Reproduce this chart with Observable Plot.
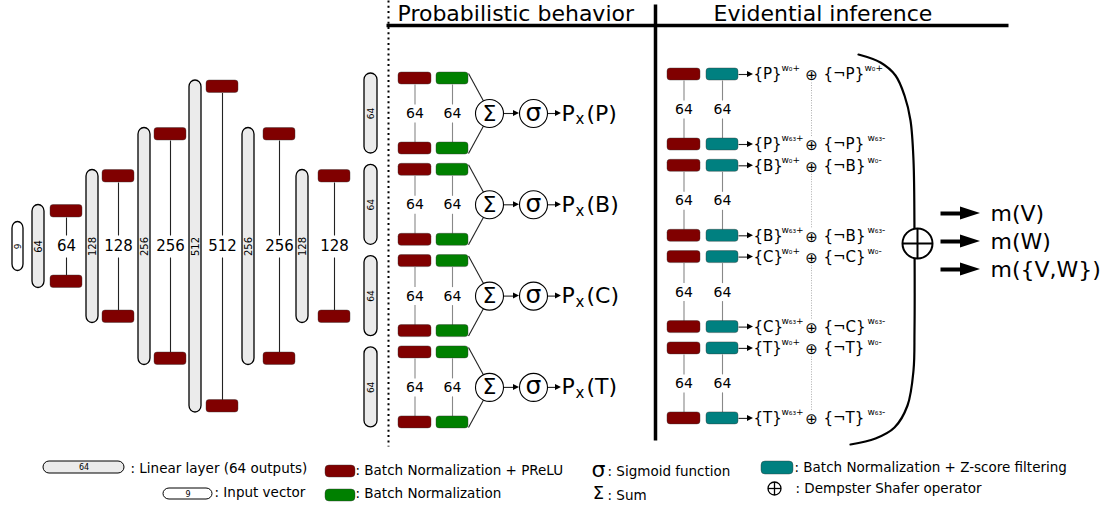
<!DOCTYPE html>
<html><head><meta charset="utf-8">
<script src="https://cdn.jsdelivr.net/npm/d3@7"></script>
<script src="https://cdn.jsdelivr.net/npm/@observablehq/plot@0.6"></script>
<style>
html,body{margin:0;padding:0;background:#fff;}
#chart svg{display:block;}
</style></head><body><div id="chart"></div>
<script>
// ---------------- data ----------------
const inputSize = 9;
const trunkSizes = [64, 128, 256, 512, 256, 128];
const headClasses = ["P", "B", "C", "T"];
const headSize = 64;
const evidSize = 64;
const weightFirst = "w₀";
const weightLast = "w₆₃";
const outputs = ["m(V)", "m(W)", "m({V,W})"];
const titles = ["Probabilistic behavior", "Evidential inference"];
const legendLinear = ": Linear layer (64 outputs)";
const legendInput = ": Input vector";
const legendBnPrelu = ": Batch Normalization + PReLU";
const legendBn = ": Batch Normalization";
const legendSigmoid = ": Sigmoid function";
const legendSum = ": Sum";
const legendZ = ": Batch Normalization + Z-score filtering";
const legendDS = ": Dempster Shafer operator";

// ---------------- styles / layout ----------------
const W = 1111, H = 505, FONT = "DejaVu Sans";
const RED = "#800000", GREEN = "#008000", TEAL = "#008080", PILL = "#ebebeb";
const L = {
  mid: 246,
  pillX: [32, 86, 138, 189, 242, 296], pillW: 12,
  bnX: [50, 102, 154, 206, 263, 318], bnW: 32, bnH: 12.5,
  trunkH: {64: 83, 128: 153, 256: 237, 512: 332},
  input: {x1: 12, x2: 23, h: 49},
  headT0: 72, headStep: 91.3,
  evT0: 74, evStep: 91.3, evGap: 70
};

const pills = [], boxes = [], links = [], greyLinks = [], texts = [], heads = [], dots = [];
const addHead = (id, tipX, tipY, len, half) => {
  heads.push({id, x: tipX - len, ya: tipY - half, yb: tipY + half});
  heads.push({id, x: tipX, ya: tipY, yb: tipY});
};
const T = (x, y, text, size, anchor = "middle", extra = {}) => texts.push({x, y, text, size, anchor, rotate: 0, ...extra});

// input vector
pills.push({x1: L.input.x1, x2: L.input.x2, y1: L.mid - L.input.h / 2, y2: L.mid + L.input.h / 2, fill: "#fff"});
T((L.input.x1 + L.input.x2) / 2, L.mid, String(inputSize), 9, "middle", {rotate: -90});

// trunk
trunkSizes.forEach((s, i) => {
  const h = L.trunkH[s];
  const y1 = L.mid - h / 2, y2 = L.mid + h / 2;
  const px = L.pillX[i];
  pills.push({x1: px, x2: px + L.pillW, y1, y2, fill: PILL});
  T(px + L.pillW / 2, L.mid, String(s), 10, "middle", {rotate: -90});
  const bx = L.bnX[i], cx = bx + L.bnW / 2;
  boxes.push({x1: bx, x2: bx + L.bnW, y1: y1, y2: y1 + L.bnH, fill: RED});
  boxes.push({x1: bx, x2: bx + L.bnW, y1: y2 - L.bnH, y2: y2, fill: RED});
  links.push({x1: cx, y1: y1 + L.bnH, x2: cx, y2: L.mid - 11});
  links.push({x1: cx, y1: L.mid + 11, x2: cx, y2: y2 - L.bnH});
  T(cx, L.mid, String(s), 15);
});

// probabilistic heads
headClasses.forEach((c, i) => {
  const t = L.headT0 + i * L.headStep, m = t + 41;
  pills.push({x1: 364, x2: 377, y1: t + 1, y2: t + 81, fill: PILL});
  T(370.5, m, String(headSize), 9, "middle", {rotate: -90});
  [[398, 431, RED], [436, 468, GREEN]].forEach(([a, b, col]) => {
    boxes.push({x1: a, x2: b, y1: t, y2: t + 12, fill: col});
    boxes.push({x1: a, x2: b, y1: t + 70, y2: t + 82, fill: col});
    const cx = (a + b) / 2;
    greyLinks.push({x1: cx, y1: t + 12, x2: cx, y2: m - 9});
    greyLinks.push({x1: cx, y1: m + 9, x2: cx, y2: t + 70});
    T(cx, m, String(headSize), 14);
  });
  links.push({x1: 468, y1: t + 1, x2: 483, y2: m - 12.5});
  links.push({x1: 468, y1: t + 81, x2: 483, y2: m + 12.5});
  dots.push({x: 489, y: m}); dots.push({x: 533, y: m});
  T(489, m, "Σ", 22);
  T(533, m - 1, "σ", 25);
  links.push({x1: 503, y1: m, x2: 514, y2: m});
  addHead("s" + i, 519, m, 6, 3);
  links.push({x1: 547, y1: m, x2: 556, y2: m});
  addHead("p" + i, 561, m, 6, 3);
  T(561, m, "P", 22, "start");
  T(575, m + 6, "x", 15, "start");
  T(586, m, "(" + c + ")", 22, "start");
});

// evidential inference
const dotted = [];
headClasses.forEach((c, i) => {
  const top = L.evT0 + i * L.evStep, bot = top + L.evGap, m = (top + bot) / 2;
  [[667, 700, RED], [706, 738, TEAL]].forEach(([a, b, col]) => {
    boxes.push({x1: a, x2: b, y1: top - 6, y2: top + 6, fill: col});
    boxes.push({x1: a, x2: b, y1: bot - 6, y2: bot + 6, fill: col});
    const cx = (a + b) / 2;
    greyLinks.push({x1: cx, y1: top + 6, x2: cx, y2: m - 9});
    greyLinks.push({x1: cx, y1: m + 9, x2: cx, y2: bot - 6});
    T(cx, m, String(evidSize), 14);
  });
  [[top, weightFirst, i === 0 ? "+" : "-"], [bot, weightLast, "-"]].forEach(([y, w, sgn], k) => {
    links.push({x1: 738, y1: y, x2: 747, y2: y});
    addHead("e" + i + k, 753, y, 6, 3);
    T(753, y, "{" + c + "}", 15, "start");
    T(781, y - 6, w + "+", 9, "start");
    T(811, y + 1, "⊕", 15);
    T(823, y, "{¬" + c + "}", 15, "start");
    T(i === 0 && k === 0 ? 864 : 867, y - 6, w + sgn, 9, "start");
  });
  dotted.push({x1: 811, y1: top + 8, x2: 811, y2: bot - 8});
});

// bracket and combination
const bracket = [[858,54],[880,62],[895,75],[904,95],[910,120],[913,160],[914,240],[914,330],[913,370],[907,405],[894,427],[875,438],[850,444]].map(([x, y]) => ({x, y}));
const bigCircle = [{x: 917, y: 243}];
const crossLines = [{x1: 902, y1: 243, x2: 932, y2: 243}, {x1: 917, y1: 228, x2: 917, y2: 258}];
const outY = [213, 241, 269];
const thickLinks = [];
outputs.forEach((o, i) => {
  thickLinks.push({x1: 940, y1: outY[i], x2: 962, y2: outY[i]});
  addHead("o" + i, 980, outY[i], 20, 6.5);
  T(990, outY[i], o, 22, "start");
});

// titles + frame lines
T(397, 13, titles[0], 22, "start");
T(713, 13, titles[1], 22, "start");
const frame = [{x1: 386, y1: 25, x2: 1008, y2: 25}, {x1: 655, y1: 4, x2: 655, y2: 440}];
const dotLine = [{x1: 388, y1: 0, x2: 388, y2: 446}];

// legend
const legendPills = [
  {x1: 43, x2: 124, y1: 461, y2: 473, fill: PILL},
  {x1: 163, x2: 212, y1: 488, y2: 499, fill: "#fff"}
];
T(83.5, 467, "64", 8); T(187.5, 493.5, String(inputSize), 8);
T(130, 468, legendLinear, 13.5, "start");
T(214, 492, legendInput, 13.5, "start");
const legendBoxes = [
  {x1: 325, x2: 355, y1: 465, y2: 477, fill: RED},
  {x1: 325, x2: 355, y1: 489, y2: 501, fill: GREEN},
  {x1: 761, x2: 793, y1: 461, y2: 474, fill: TEAL}
];
T(355, 470, legendBnPrelu, 13.5, "start");
T(355, 493, legendBn, 13.5, "start");
T(598, 469, "σ", 22); T(607, 471, legendSigmoid, 13.5, "start");
T(598, 493, "Σ", 18); T(607, 495, legendSum, 13.5, "start");
T(794, 467, legendZ, 13.5, "start");
T(795, 488, legendDS, 13.5, "start");
const smallCircle = [{x: 774, y: 488}];
const smallCross = [{x1: 767.5, y1: 488, x2: 780.5, y2: 488}, {x1: 774, y1: 481.5, x2: 774, y2: 494.5}];

const lk = (data, o) => Plot.link(data, {x1: "x1", y1: "y1", x2: "x2", y2: "y2", ...o});
const txt = (data, o) => Plot.text(data, {x: "x", y: "y", text: "text", fontSize: "size", fill: "#000", lineAnchor: "middle", ...o});

const chart = Plot.plot({
  width: W, height: H, margin: 0,
  x: {domain: [0, W], range: [0, W], axis: null},
  y: {domain: [0, H], range: [0, H], axis: null},
  color: {type: "identity"},
  style: {fontFamily: FONT, background: "#fff", color: "#000"},
  marks: [
    lk(dotLine, {stroke: "#000", strokeWidth: 2, strokeDasharray: "2 3.3"}),
    lk(frame, {stroke: "#000", strokeWidth: 3.5}),
    lk(dotted, {stroke: "#999", strokeWidth: 0.8, strokeDasharray: "1 1.5"}),
    lk(links, {stroke: "#222", strokeWidth: 1.1}),
    lk(greyLinks, {stroke: "#888", strokeWidth: 1.1}),
    Plot.rect(pills, {x1: "x1", x2: "x2", y1: "y1", y2: "y2", fill: "fill", stroke: "#000", strokeWidth: 1.3, rx: 6.5}),
    Plot.rect(boxes, {x1: "x1", x2: "x2", y1: "y1", y2: "y2", fill: "fill", stroke: "#333", strokeWidth: 0.4, rx: 3}),
    Plot.dot(dots, {x: "x", y: "y", r: 14, fill: "#fff", stroke: "#000", strokeWidth: 1.1}),
    Plot.line(bracket, {x: "x", y: "y", curve: "catmull-rom", stroke: "#000", strokeWidth: 2.2}),
    Plot.dot(bigCircle, {x: "x", y: "y", r: 15, fill: "#fff", stroke: "#000", strokeWidth: 2}),
    lk(crossLines, {stroke: "#000", strokeWidth: 2}),
    lk(thickLinks, {stroke: "#000", strokeWidth: 4}),
    Plot.area(heads, {x1: "x", y1: "ya", y2: "yb", z: "id", fill: "#000"}),
    Plot.rect(legendPills, {x1: "x1", x2: "x2", y1: "y1", y2: "y2", fill: "fill", stroke: "#000", strokeWidth: 1, rx: 6}),
    Plot.rect(legendBoxes, {x1: "x1", x2: "x2", y1: "y1", y2: "y2", fill: "fill", stroke: "#333", strokeWidth: 0.4, rx: 4}),
    Plot.dot(smallCircle, {x: "x", y: "y", r: 6.5, fill: "#fff", stroke: "#000", strokeWidth: 1.3}),
    lk(smallCross, {stroke: "#000", strokeWidth: 1.3}),
    txt(texts.filter(d => d.rotate === 0 && d.anchor === "middle"), {textAnchor: "middle"}),
    txt(texts.filter(d => d.rotate === 0 && d.anchor === "start"), {textAnchor: "start"}),
    txt(texts.filter(d => d.rotate !== 0), {rotate: -90, textAnchor: "middle"})
  ]
});
document.getElementById("chart").appendChild(chart);
</script></body></html>
